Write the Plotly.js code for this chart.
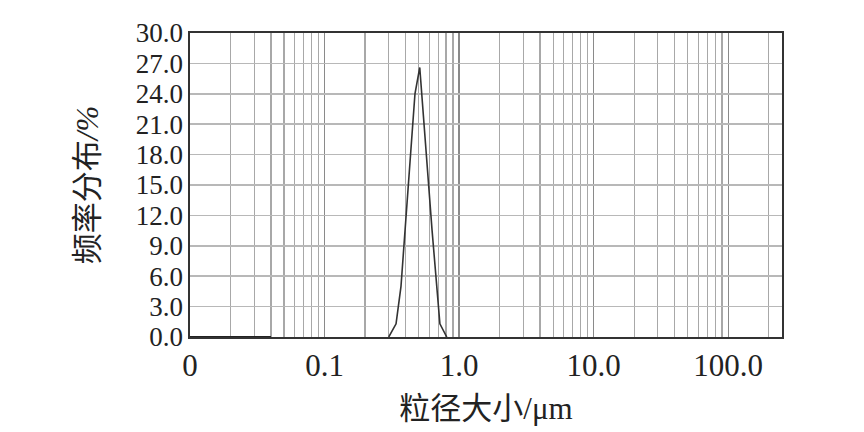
<!DOCTYPE html>
<html>
<head>
<meta charset="utf-8">
<script src="https://cdn.plot.ly/plotly-3.0.1.min.js"></script>
<style>html,body{margin:0;padding:0;background:#fff;}#chart{width:864px;height:432px;}</style>
</head>
<body>
<div id="chart"></div>
<script>
// Particle size (μm) and frequency distribution (%)
const baseSize = [0.01, 0.04];
const baseFreq = [0, 0];
const peakSize = [0.30, 0.34, 0.37, 0.47, 0.51, 0.63, 0.72, 0.81];
const peakFreq = [0, 1.3, 5.0, 24.0, 26.6, 10.5, 1.3, 0];
// Axis tick labels
const xTickVals = [0.01, 0.1, 1, 10, 100];
const xTickText = ['0', '0.1', '1.0', '10.0', '100.0'];
const yTickVals = [0, 3, 6, 9, 12, 15, 18, 21, 24, 27, 30];

// minor grid positions (2..9 within each decade)
const minorVals = [];
for (let d = -2; d <= 2; d++) {
  for (let m = 2; m <= 9; m++) {
    const v = m * Math.pow(10, d);
    if (v <= 250) minorVals.push(v);
  }
}

const serif = "'Liberation Serif', 'Times New Roman', serif";
const cjk = "'Noto Sans CJK SC', sans-serif";

const traces = [
  {x: baseSize, y: baseFreq, type: 'scatter', mode: 'lines',
   line: {color: '#222', width: 2}, hoverinfo: 'skip', showlegend: false},
  {x: peakSize, y: peakFreq, type: 'scatter', mode: 'lines',
   line: {color: '#333', width: 1.6}, hoverinfo: 'skip', showlegend: false}
];

const layout = {
  width: 864, height: 432,
  margin: {l: 190, r: 82, t: 33, b: 95},
  paper_bgcolor: '#fff', plot_bgcolor: '#fff',
  showlegend: false,
  xaxis: {
    type: 'log', range: [-2, 2.40], autorange: false,
    tickmode: 'array', tickvals: xTickVals, ticktext: xTickText,
    ticks: '', showgrid: true, gridcolor: '#8a8a8a', gridwidth: 1.2,
    minor: {tickmode: 'array', tickvals: minorVals, showgrid: true, gridcolor: '#a8a8a8', gridwidth: 1.2, ticks: ''},
    showline: true, linecolor: '#333', linewidth: 1.6, mirror: true,
    zeroline: false,
    tickfont: {family: serif, size: 31, color: '#222'},
    title: {text: '粒径大小<span style="font-family:\'Liberation Serif\'">/μm</span>',
            font: {family: cjk, size: 31, color: '#222'}, standoff: 8}
  },
  yaxis: {
    range: [0, 30], autorange: false,
    tickmode: 'array', tickvals: yTickVals, tickformat: '.1f',
    ticks: '', showgrid: true, gridcolor: '#b8b8b8', gridwidth: 1.5,
    showline: true, linecolor: '#333', linewidth: 1.6, mirror: true,
    zeroline: false,
    tickfont: {family: serif, size: 27, color: '#222'},
    title: {text: '频率分布<span style="font-family:\'Liberation Serif\';font-style:italic">/%</span>',
            font: {family: cjk, size: 31, color: '#222'}, standoff: 28}
  }
};

Plotly.newPlot('chart', traces, layout, {staticPlot: true, displayModeBar: false});
</script>
</body>
</html>
